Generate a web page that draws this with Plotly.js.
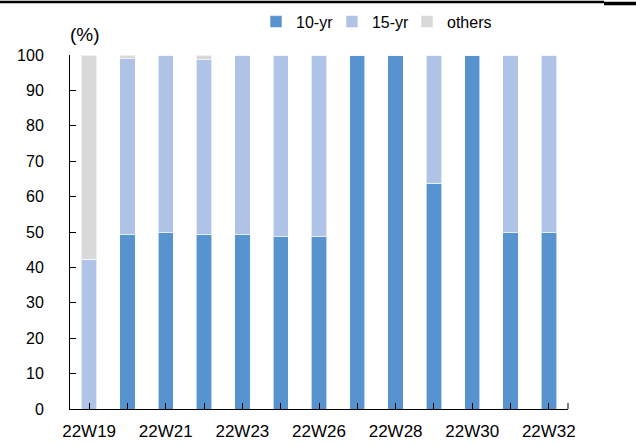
<!DOCTYPE html>
<html>
<head>
<meta charset="utf-8">
<script src="https://cdn.plot.ly/plotly-3.0.1.min.js"></script>
<style>html,body{margin:0;padding:0;background:#fff;}#chart{width:636px;height:445px;}</style>
</head>
<body>
<div id="chart"></div>
<script>
var categories = ['22W19','22W20','22W21','22W22','22W23','22W25','22W26','22W27','22W28','22W29','22W30','22W31','22W32'];
var tickLabels = ['22W19','','22W21','','22W23','','22W26','','22W28','','22W30','','22W32'];
var tenYr     = [0, 49.4, 50.0, 49.3, 49.3, 48.8, 48.8, 100, 100, 63.8, 100, 50, 50];
var fifteenYr = [42.3, 49.6, 50.0, 49.3, 50.7, 51.2, 51.2, 0, 0, 36.2, 0, 50, 50];
var others    = [57.7, 1.0, 0, 1.4, 0, 0, 0, 0, 0, 0, 0, 0, 0];

var FONT = 'Liberation Sans, Arial, sans-serif';
var edge = {color: 'rgba(255,255,255,0.6)', width: 1};
var traces = [
  {type: 'bar', name: '10-yr', x: categories, y: tenYr, marker: {color: '#5693CF', line: edge}, legend: 'legend'},
  {type: 'bar', name: '15-yr', x: categories, y: fifteenYr, marker: {color: '#AEC3E6', line: edge}, legend: 'legend2'},
  {type: 'bar', name: 'others', x: categories, y: others, marker: {color: '#D9D9D9', line: edge}, legend: 'legend3'}
];

function leg(x) {
  return {orientation: 'h', x: x, xanchor: 'left', y: 1.094, yanchor: 'middle',
          font: {family: FONT, size: 16, color: '#000'}, itemwidth: 30,
          bgcolor: 'rgba(0,0,0,0)'};
}

var layout = {
  width: 636, height: 445,
  margin: {l: 70, r: 68, t: 55, b: 36, autoexpand: false},
  barmode: 'stack',
  bargap: 0.6,
  paper_bgcolor: '#fff', plot_bgcolor: '#fff',
  font: {family: FONT, color: '#000', size: 16},
  showlegend: true,
  legend: leg(0.3735),
  legend2: leg(0.526),
  legend3: leg(0.6767),
  xaxis: {type: 'category', tickmode: 'array', tickvals: categories, ticktext: tickLabels,
          range: [-0.5, 12.5], showline: true, linecolor: '#000', linewidth: 1,
          ticks: 'inside', ticklen: 6, tickcolor: '#000', showgrid: false, zeroline: false,
          tickfont: {family: FONT, size: 17}, ticklabelstandoff: 7, fixedrange: true},
  yaxis: {range: [0, 100], dtick: 10, tick0: 0, showline: true, linecolor: '#000', linewidth: 1,
          ticks: 'inside', ticklen: 6, tickcolor: '#000', showgrid: false, zeroline: false,
          tickfont: {family: FONT, size: 16}, ticklabelstandoff: 22, fixedrange: true},
  annotations: [
    {text: '(%)', xref: 'paper', yref: 'paper', x: -0.004, y: 1.0565, xanchor: 'left', yanchor: 'middle',
     showarrow: false, font: {family: FONT, size: 19, color: '#000'}}
  ],
  shapes: [
    {type: 'line', xref: 'paper', yref: 'paper', x0: -0.1406, x1: 1.0723, y0: 1.1497, y1: 1.1497,
     line: {color: '#000', width: 2.5}, layer: 'above'},
    {type: 'line', xref: 'paper', yref: 'paper', x0: 1.0723, x1: 1.1406, y0: 1.1455, y1: 1.1455,
     line: {color: '#000', width: 3.5}, layer: 'above'},
    {type: 'line', xref: 'paper', yref: 'paper', x0: 1, x1: 1, y0: 0, y1: 0.017,
     line: {color: '#000', width: 1}}
  ]
};

Plotly.newPlot('chart', traces, layout, {displayModeBar: false, staticPlot: true});
</script>
</body>
</html>
